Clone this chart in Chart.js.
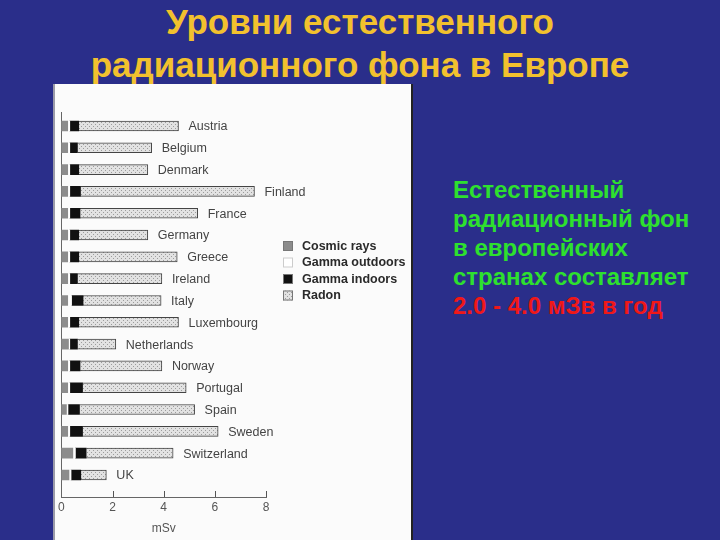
<!DOCTYPE html>
<html>
<head>
<meta charset="utf-8">
<script src="https://cdn.jsdelivr.net/npm/chart.js@4"></script>
<style>
  body { margin: 0; width: 720px; height: 540px; overflow: hidden; background: #2a2e8a; font-family: "Liberation Sans", Arial, sans-serif; position: relative; }
  #title { position: absolute; left: 0; top: 0; width: 720px; text-align: center; color: #f2c12e; font-weight: bold; font-size: 35px; line-height: 43px; }
  #panel { position: absolute; left: 55px; top: 84px; width: 356px; height: 456px; background: #fbfbfb; box-shadow: -2px 0 0 #9a9aa8, 2px 0 0 #222; }
  #note { position: absolute; left: 453px; top: 175px; color: #2ee02e; font-weight: bold; font-size: 24px; line-height: 29px; white-space: nowrap; }
  #note .red { color: #f01818; }
</style>
</head>
<body>
<div id="title">Уровни естественного<br>радиационного фона в Европе</div>
<div id="panel"><canvas id="chart" width="356" height="456"></canvas></div>
<div id="note">Естественный<br>радиационный фон<br>в европейских<br>странах составляет<br><span class="red">2.0 - 4.0 мЗв в год</span></div>
<script>
const countries = ["Austria", "Belgium", "Denmark", "Finland", "France", "Germany", "Greece", "Ireland", "Italy",
  "Luxembourg", "Netherlands", "Norway", "Portugal", "Spain", "Sweden", "Switzerland", "UK"];
const seriesNames = ["Cosmic rays", "Gamma outdoors", "Gamma indoors", "Radon"];
const cosmicRays     = [0.25, 0.25, 0.25, 0.25, 0.25, 0.25, 0.25, 0.25, 0.25, 0.25, 0.28, 0.25, 0.25, 0.2, 0.25, 0.45, 0.3];
const gammaOutdoors  = [0.08, 0.08, 0.08, 0.08, 0.08, 0.08, 0.08, 0.08, 0.15, 0.08, 0.05, 0.08, 0.08, 0.06, 0.08, 0.1, 0.08];
const gammaIndoors   = [0.35, 0.3, 0.35, 0.42, 0.4, 0.35, 0.35, 0.3, 0.45, 0.35, 0.3, 0.4, 0.5, 0.45, 0.5, 0.42, 0.38];
const radon          = [3.9, 2.9, 2.7, 6.8, 4.6, 2.7, 3.85, 3.3, 3.05, 3.9, 1.5, 3.2, 4.05, 4.5, 5.3, 3.4, 1.0];
const xTicks = [0, 2, 4, 6, 8];

// dotted fill for the radon part
function makeDots() {
  const c = document.createElement("canvas");
  c.width = 4; c.height = 4;
  const g = c.getContext("2d");
  g.fillStyle = "#e2e2e2";
  g.fillRect(0, 0, 4, 4);
  g.fillStyle = "#9c9c9c";
  g.fillRect(0, 0, 1, 1);
  g.fillRect(2, 2, 1, 1);
  return g.createPattern(c, "repeat");
}
const dots = makeDots();

const fills = ["#8c8c8c", "#ffffff", "#111111", dots];
const values = [cosmicRays, gammaOutdoors, gammaIndoors, radon];

const labelsPlugin = {
  id: "sideLabels",
  afterDatasetsDraw(chart) {
    const ctx = chart.ctx;
    const meta = chart.getDatasetMeta(3);
    ctx.save();
    ctx.font = "12.5px 'Liberation Sans', Arial, sans-serif";
    ctx.fillStyle = "#444";
    ctx.textBaseline = "middle";
    meta.data.forEach((bar, i) => {
      ctx.fillText(countries[i], bar.x + 10, bar.y + 1);
    });
    // upward tick marks on the x axis
    const xs = chart.scales.x;
    ctx.strokeStyle = "#555";
    ctx.lineWidth = 1;
    xTicks.slice(1).forEach(v => {
      const px = Math.round(xs.getPixelForValue(v)) + 0.5;
      ctx.beginPath();
      ctx.moveTo(px, chart.chartArea.bottom);
      ctx.lineTo(px, chart.chartArea.bottom - 6);
      ctx.stroke();
    });
    // legend
    ctx.font = "bold 12.5px 'Liberation Sans', Arial, sans-serif";
    seriesNames.forEach((name, k) => {
      const y = 157 + k * 16.5;
      ctx.fillStyle = fills[k];
      ctx.fillRect(228, y, 10, 10);
      ctx.strokeStyle = k == 1 ? "#ccc" : "#777";
      ctx.strokeRect(228.5, y + 0.5, 9, 9);
      ctx.fillStyle = "#2a2a2a";
      ctx.fillText(name, 247, y + 5.5);
    });
    ctx.restore();
  }
};

new Chart(document.getElementById("chart"), {
  type: "bar",
  data: {
    datasets: seriesNames.map((name, k) => ({
      label: name,
      data: countries.map((c, i) => ({ y: i, x: values[k][i] })),
      backgroundColor: fills[k],
      borderColor: k == 3 ? "#444" : "rgba(0,0,0,0)",
      borderWidth: k == 3 ? 1 : 0,
      borderSkipped: "start",
      barThickness: 10
    }))
  },
  options: {
    indexAxis: "y",
    responsive: false,
    animation: false,
    events: [],
    layout: { padding: { left: 0, right: 145, top: 28, bottom: 0 } },
    scales: {
      x: {
        type: "linear",
        stacked: true,
        min: 0,
        max: 8,
        afterBuildTicks(scale) { scale.ticks = xTicks.map(v => ({ value: v })); },
        afterFit(scale) { scale.height = 43; },
        ticks: { color: "#555", padding: 3, font: { size: 12, family: "'Liberation Sans', Arial, sans-serif" } },
        grid: { display: false, drawTicks: false },
        border: { display: true, color: "#666" },
        title: { display: true, text: "mSv", color: "#555", padding: { top: 2, bottom: 4 }, font: { size: 12, family: "'Liberation Sans', Arial, sans-serif" } }
      },
      y: {
        type: "linear",
        stacked: true,
        reverse: true,
        offset: false,
        min: -0.64,
        max: 17.01,
        afterFit(scale) { scale.width = 0; },
        ticks: { display: false },
        grid: { display: false },
        border: { display: true, color: "#666" }
      }
    },
    plugins: {
      legend: { display: false },
      tooltip: { enabled: false }
    }
  },
  plugins: [labelsPlugin]
});
</script>
</body>
</html>
